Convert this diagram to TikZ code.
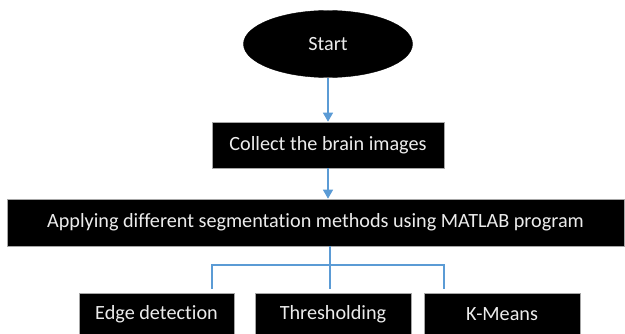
\documentclass[tikz,border=0pt]{standalone}
\usepackage{fontspec}
\setmainfont[Ligatures={NoCommon}]{Carlito}
\usetikzlibrary{shapes.geometric,arrows.meta}
\definecolor{linkblue}{RGB}{91,155,213}
\definecolor{txtgray}{RGB}{236,236,236}
\tikzset{
  blackbox/.style={rectangle,fill=black,draw=gray!70,line width=0.6pt,inner sep=0pt,
    text=txtgray,font=\fontsize{20.2}{23}\selectfont},
  startshape/.style={ellipse,fill=black,draw=black,inner sep=0pt,text=txtgray,
    font=\fontsize{20.2}{23}\selectfont,minimum width=169pt,minimum height=67pt},
  link/.style={draw=linkblue,line width=1.1pt},
  arrowlink/.style={link,-{Triangle[width=10pt,length=9pt]}}
}
\begin{document}
\begin{tikzpicture}[x=1pt,y=-1pt]
\useasboundingbox (0,0) rectangle (625,334);
\clip (0,0) rectangle (625,334);
\node[startshape] (start) at (328,44) {Start};
\node[blackbox,minimum width=232pt,minimum height=46pt] (collect) at (328,145) {Collect the brain images};
\node[blackbox,minimum width=617pt,minimum height=47pt] (apply) at (315.5,222.5) {Applying different segmentation methods using MATLAB program};
\node[blackbox,minimum width=155pt,minimum height=42pt] (edge) at (156.5,314) {Edge detection};
\node[blackbox,minimum width=156pt,minimum height=42pt] (thresh) at (333,314) {Thresholding};
\node[blackbox,minimum width=156pt,minimum height=42pt] (kmeans) at (502,314) {K-Means};
\coordinate (e1) at (212,289);
\coordinate (t1) at (330,289);
\coordinate (k1) at (444,289);
\coordinate (j) at (330,265);
\draw[arrowlink] (start.south -| collect.north) -- (collect.north);
\draw[arrowlink] (collect.south) -- (collect.south |- apply.north);
\draw[link] (apply.south -| t1) -- (t1);
\draw[link] (e1) -- (e1 |- j) -- (k1 |- j) -- (k1);
\end{tikzpicture}
\end{document}
